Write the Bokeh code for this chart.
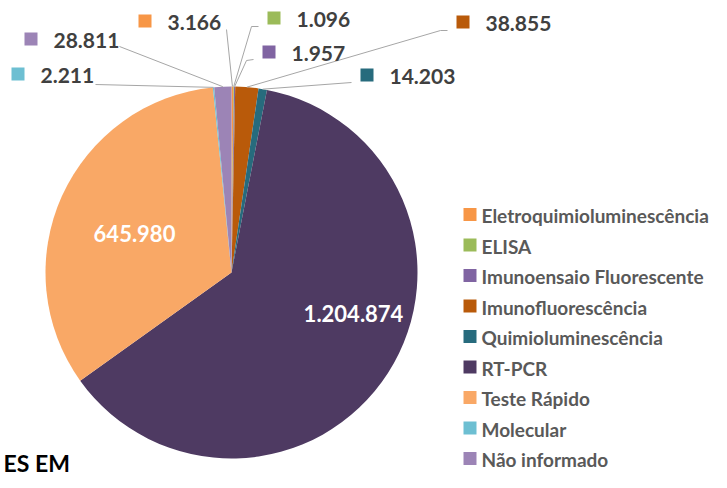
import math
from bokeh.plotting import figure
from bokeh.models import Range1d
from bokeh.core.properties import value
from bokeh.embed import file_html
from bokeh.resources import INLINE

# ---------------- data ----------------
categories = ["Eletroquimioluminescência", "ELISA", "Imunoensaio Fluorescente",
              "Imunofluorescência", "Quimioluminescência", "RT-PCR",
              "Teste Rápido", "Molecular", "Não informado"]
values = [3166, 1096, 1957, 38855, 14203, 1204874, 645980, 2211, 28811]
value_labels = ["3.166", "1.096", "1.957", "38.855", "14.203", "1.204.874",
                "645.980", "2.211", "28.811"]
colors = ["#F79646", "#9BBB59", "#8064A2", "#B95A0A", "#276B7D", "#4E3A62",
          "#F9A866", "#6DBFD2", "#9C84B6"]
title_fragment = "ES EM"

# ---------------- layout (picture pixel coordinates) ----------------
W, H = 711, 472
def X(px):
    return px
def Y(py):
    return H - py

FONT = "Lato"
CX, CY, R = 231, 272, 186

p = figure(width=W, height=H, output_backend="svg", toolbar_location=None,
           x_range=Range1d(0, W), y_range=Range1d(0, H),
           x_axis_location=None, y_axis_location=None, min_border=0)
p.outline_line_color = None
p.xgrid.visible = False
p.ygrid.visible = False
p.background_fill_color = "white"

total = float(sum(values))
k = 2 * math.pi / total
cum = [0.0]
for v in values:
    cum.append(cum[-1] + v)
starts = [math.pi / 2 - cum[i + 1] * k for i in range(len(values))]
ends = [math.pi / 2 - cum[i] * k for i in range(len(values))]
mids = [(cum[i] + values[i] / 2.0) * k for i in range(len(values))]  # clockwise from top

p.wedge(x=X(CX), y=Y(CY), radius=R, start_angle=starts, end_angle=ends,
        direction="anticlock", fill_color=colors, line_color=None)

# external labels: (index, square-left, square-top, leader start, elbow)
ext = [
    (0, 138, 14, (226, 29), None),
    (1, 267, 11, (258, 26), (251, 26)),
    (2, 262, 45, (253, 59), (246, 60)),
    (3, 456, 15, (447, 30), (440, 30)),
    (4, 360, 68, (351, 82), None),
    (7, 11, 67, (95, 84), None),
    (8, 24, 32, (119, 46), None),
]
xs, ys = [], []
for (i, sx, sy, st, el) in ext:
    px = CX + R * math.sin(mids[i])
    py = CY - R * math.cos(mids[i])
    pts = [st] + ([el] if el else []) + [(px, py)]
    xs.append([X(a) for a, b in pts])
    ys.append([Y(b) for a, b in pts])
p.multi_line(xs=xs, ys=ys, line_color="#A6A6A6", line_width=1)

p.rect(x=[X(e[1] + 6.5) for e in ext], y=[Y(e[2] + 6.5) for e in ext],
       width=13, height=13, fill_color=[colors[e[0]] for e in ext], line_color=None)
p.text(x=[X(e[1] + 29) for e in ext], y=[Y(e[2] + 8) for e in ext],
       text=[value_labels[e[0]] for e in ext], text_font=value(FONT),
       text_font_style="bold", text_font_size="21px", text_color="#404040",
       text_baseline="middle", text_align="left")

# internal labels
inner = [(5, 353, 313), (6, 134, 233)]
p.text(x=[X(a) for _, a, b in inner], y=[Y(b) for _, a, b in inner],
       text=[value_labels[i] for i, _, _ in inner], text_font=value(FONT),
       text_font_style="bold", text_font_size="22px", text_color="white",
       text_baseline="middle", text_align="center")

# legend (kept inside the canvas)
leg_y = [214.0 + 30.5 * i for i in range(len(categories))]
p.rect(x=[X(469.5)] * len(categories), y=[Y(v) for v in leg_y], width=13, height=13,
       fill_color=colors, line_color=None)
p.text(x=[X(481)] * len(categories), y=[Y(v + 1) for v in leg_y], text=categories,
       text_font=value(FONT), text_font_style="bold", text_font_size="19px",
       text_color="#595959", text_baseline="middle", text_align="left")

# cut-off title fragment
p.text(x=[X(3)], y=[Y(462)], text=[title_fragment], text_font=value(FONT),
       text_font_style="bold", text_font_size="23px", text_color="black",
       text_baseline="alphabetic", text_align="left")

open("out.html", "w").write(file_html(p, INLINE))
